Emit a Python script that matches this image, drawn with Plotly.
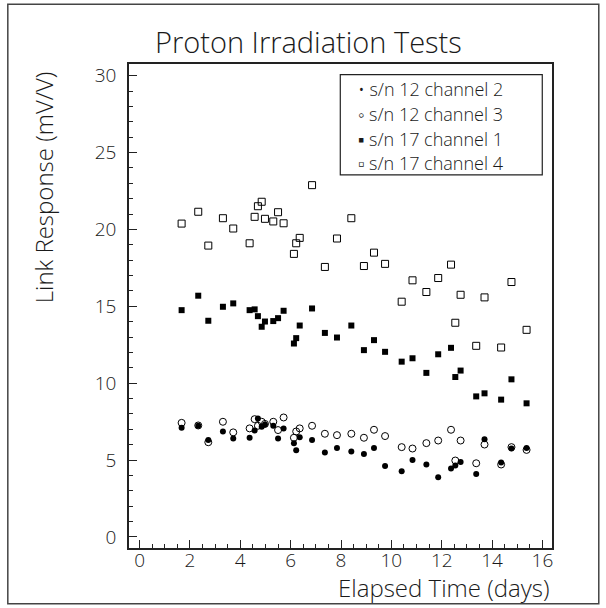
import plotly.graph_objects as go

# Elapsed time (days) of each measurement
days = [1.67, 2.33, 2.73, 3.31, 3.72, 4.37, 4.57, 4.70, 4.85, 4.98,
        5.31, 5.50, 5.72, 6.13, 6.22, 6.36, 6.85, 7.36, 7.84, 8.41,
        8.91, 9.31, 9.75, 10.41, 10.84, 11.39, 11.86, 12.37, 12.54, 12.75,
        13.37, 13.70, 14.36, 14.77, 15.37]

sn12_ch2 = [7.10, 7.23, 6.31, 6.86, 6.40, 6.45, 6.93, 7.71, 7.16, 7.32,
            7.23, 6.40, 7.06, 6.10, 5.64, 6.49, 6.31, 5.49, 5.79, 5.56,
            5.40, 5.79, 4.62, 4.27, 5.01, 4.71, 3.88, 4.45, 4.64, 4.88,
            4.10, 6.36, 4.84, 5.75, 5.79]

sn12_ch3 = [7.42, 7.25, 6.16, 7.49, 6.80, 7.06, 7.66, 7.23, 7.49, 7.35,
            7.49, 6.95, 7.77, 6.45, 6.86, 7.06, 7.23, 6.71, 6.62, 6.71,
            6.45, 6.97, 6.56, 5.84, 5.75, 6.10, 6.27, 6.97, 4.97, 6.27,
            4.79, 6.01, 4.71, 5.84, 5.66]

sn17_ch1 = [14.75, 15.69, 14.06, 14.97, 15.19, 14.75, 14.80, 14.36, 13.67, 14.01,
            14.04, 14.23, 14.71, 12.58, 12.93, 13.75, 14.86, 13.27, 12.97, 13.75,
            12.15, 12.80, 12.04, 11.40, 11.62, 10.67, 11.88, 12.30, 10.40, 10.82,
            9.14, 9.34, 8.93, 10.25, 8.69]

sn17_ch4 = [20.38, 21.15, 18.95, 20.73, 20.06, 19.10, 20.82, 21.51, 21.80, 20.69,
            20.52, 21.12, 20.40, 18.41, 19.10, 19.45, 22.88, 17.56, 19.41, 20.73,
            17.62, 18.49, 17.76, 15.30, 16.69, 15.93, 16.84, 17.71, 13.93, 15.75,
            12.43, 15.58, 12.32, 16.58, 13.47]

series_names = ["s/n 12 channel 2", "s/n 12 channel 3",
                "s/n 17 channel 1", "s/n 17 channel 4"]
legend_glyphs = ["\u2022", "\u25e6", "\u25aa", "\u25ab"]

FONT = "Open Sans"
W = 300
TXT = "#1a1a1a"
LINE = "#222222"

fig = go.Figure()
styles = [
    (sn12_ch2, "circle", 6, 0),
    (sn12_ch3, "circle-open", 7, 1),
    (sn17_ch1, "square", 6, 0),
    (sn17_ch4, "square-open", 7, 1),
]
for name, (vals, sym, size, lw) in zip(series_names, styles):
    fig.add_trace(go.Scatter(
        x=days, y=vals, mode="markers", name=name, showlegend=False,
        marker=dict(symbol=sym, size=size, color="black",
                    line=dict(color="black", width=lw)),
    ))

axis_common = dict(
    showgrid=False, zeroline=False, showline=True, mirror=True,
    linecolor=LINE, linewidth=1.5,
    ticks="inside", ticklen=8, tickwidth=1.3, tickcolor=LINE,
    tickfont=dict(family=FONT, size=19, color=TXT, weight=W),
)

fig.update_layout(
    width=606, height=608,
    margin=dict(l=129, r=54, t=64, b=60),
    paper_bgcolor="white", plot_bgcolor="white",
    showlegend=False,
    xaxis=dict(range=[-0.42, 16.38], dtick=2, tick0=0,
               minor=dict(dtick=0.5, ticks="inside", ticklen=4,
                          tickcolor=LINE, tickwidth=1.2),
               ticklabelstandoff=-6, **axis_common),
    yaxis=dict(range=[-0.72, 30.76], dtick=5, tick0=0,
               minor=dict(dtick=1, ticks="inside", ticklen=4,
                          tickcolor=LINE, tickwidth=1.2),
               ticklabelstandoff=7, **axis_common),
)

# legend: bordered box with one text line per series
PH = 483.4  # plot height in px (for converting legend offsets)
ROW = 24.6  # legend row pitch in px
fig.add_shape(type="rect", xref="paper", yref="paper",
              x0=0.4995, x1=0.977, y0=0.771, y1=0.978,
              line=dict(color=LINE, width=1.2), fillcolor="white")
for i, (g, n) in enumerate(zip(legend_glyphs, series_names)):
    fig.add_annotation(text=g + " " + n, xref="paper", yref="paper",
                       x=0.537, y=0.9476 - i * ROW / PH,
                       xanchor="left", yanchor="middle", align="left",
                       showarrow=False,
                       font=dict(family=FONT, size=18, color=TXT, weight=W))

fig.add_annotation(text="Proton Irradiation Tests", xref="paper", yref="paper",
                   x=0.424, y=1.046, xanchor="center", yanchor="middle",
                   showarrow=False,
                   font=dict(family=FONT, size=29, color=TXT, weight=W))
fig.add_annotation(text="Elapsed Time (days)", xref="paper", yref="paper",
                   x=0.998, y=-0.0815, xanchor="right", yanchor="middle",
                   showarrow=False,
                   font=dict(family=FONT, size=24, color=TXT, weight=W))
fig.add_annotation(text="Link Response (mV/V)", xref="paper", yref="paper",
                   x=-0.2, y=0.746, xanchor="center", yanchor="middle",
                   textangle=-90, showarrow=False,
                   font=dict(family=FONT, size=24, color=TXT, weight=W))

fig.add_shape(type="rect", xref="paper", yref="paper",
              x0=-0.2865, x1=1.1106, y0=-0.1154, y1=1.1237,
              line=dict(color="#444444", width=1.5), fillcolor="rgba(0,0,0,0)")

fig.write_html("out.html",
               config={"displayModeBar": False},
               post_script="document.body.style.margin='0';"
                           "document.body.style.overflow='hidden';")
